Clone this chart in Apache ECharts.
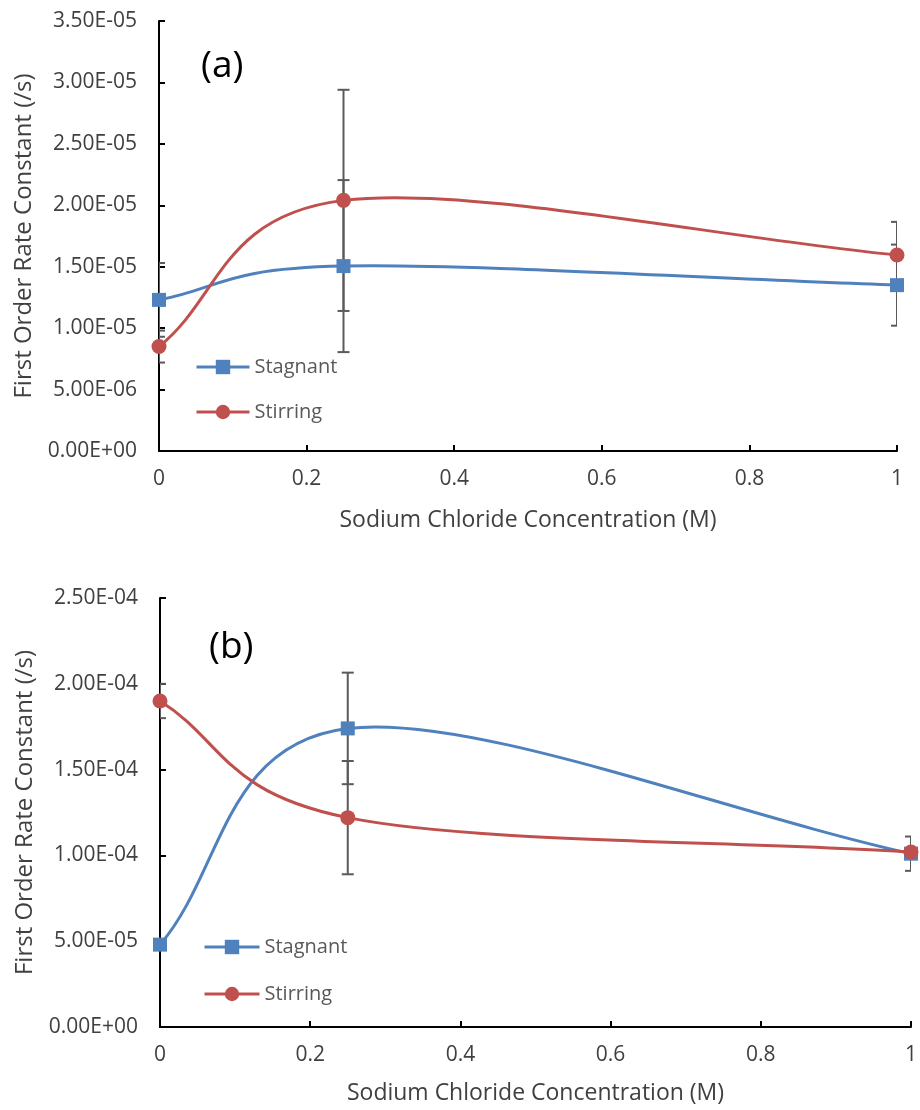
<!DOCTYPE html>
<html>
<head>
<meta charset="utf-8">
<script src="https://cdn.jsdelivr.net/npm/echarts@6/dist/echarts.min.js"></script>
<style>
html,body{margin:0;padding:0;background:#fff;}
#c{width:920px;height:1110px;}
</style>
</head>
<body>
<div id="c"></div>
<script>
// ---- data ----
const concentrations = [0, 0.25, 1];
const seriesNames = ['Stagnant', 'Stirring'];
const panelLabels = ['(a)', '(b)'];
const xAxisTitle = 'Sodium Chloride Concentration (M)';
const yAxisTitle = 'First Order Rate Constant (/s)';

// panel (a)
const aStagnant = [1.23e-5, 1.505e-5, 1.35e-5];
const aStagnantErr = [3.0e-6, 7.0e-6, 3.3e-6];
const aStirring = [8.5e-6, 2.04e-5, 1.595e-5];
const aStirringErr = [1.3e-6, 9.0e-6, 2.7e-6];
const aYMax = 3.5e-5, aYStep = 5e-6;

// panel (b)
const bStagnant = [4.8e-5, 1.74e-4, 1.01e-4];
const bStagnantErr = [1.5e-6, 3.25e-5, 1.0e-5];
const bStirring = [1.90e-4, 1.22e-4, 1.02e-4];
const bStirringErr = [1.0e-5, 3.3e-5, 2.0e-6];
const bYMax = 2.5e-4, bYStep = 5e-5;

// ---- styles ----
const BLUE = '#4F81BD', RED = '#C0504D', ERR = '#5a5a5a';
const FONT = '"Open Sans", "Noto Sans", sans-serif';
const TXT = '#404040';

function sci(v){
  if (Math.abs(v) < 1e-20) return '0.00E+00';
  const s = v.toExponential(2);
  const parts = s.split('e');
  const e = parseInt(parts[1], 10);
  const d = Math.abs(e);
  return parts[0] + 'E' + (e < 0 ? '-' : '+') + (d < 10 ? '0' : '') + d;
}

const grids = [
  {left: 159, top: 21, width: 738, height: 430},
  {left: 160, top: 598, width: 753, height: 429}
];

function xAxisDef(gi, gap){
  return {
    type: 'value', gridIndex: gi, min: 0, max: 1, interval: 0.2,
    name: xAxisTitle, nameLocation: 'middle', nameGap: gap,
    nameTextStyle: {fontFamily: FONT, fontSize: 23, color: TXT},
    axisLine: {show: true, onZero: false, lineStyle: {color: '#000', width: 2}},
    axisTick: {show: true, inside: true, length: 6, lineStyle: {color: '#000', width: 2}},
    axisLabel: {fontFamily: FONT, fontSize: 21, color: TXT, margin: 18},
    splitLine: {show: false}
  };
}
function yAxisDef(gi, max, step){
  return {
    type: 'value', gridIndex: gi, min: 0, max: max, interval: step,
    name: yAxisTitle, nameLocation: 'middle', nameGap: 123, nameRotate: 90,
    nameTextStyle: {fontFamily: FONT, fontSize: 24, color: TXT},
    axisLine: {show: true, lineStyle: {color: '#000', width: 2}},
    axisTick: {show: true, inside: true, length: 6, lineStyle: {color: '#000', width: 2}},
    axisLabel: {fontFamily: FONT, fontSize: 21, color: TXT, margin: 22, formatter: sci},
    splitLine: {show: false}
  };
}

function pts(vals){ return concentrations.map((x, i) => [x, vals[i]]); }
function errPts(vals, errs){ return concentrations.map((x, i) => [x, vals[i], errs[i]]); }

// markers (line itself drawn by the smoothed curve series below)
function markerSeries(name, gi, vals, color, symbol){
  return {
    type: 'line', name: name, xAxisIndex: gi, yAxisIndex: gi,
    data: pts(vals), symbol: symbol, symbolSize: symbol === 'rect' ? 14 : 15,
    lineStyle: {color: color, width: 3, opacity: 0}, itemStyle: {color: color, opacity: 1},
    z: 4, clip: false, animation: false
  };
}
// Excel-style smoothed line (Catmull-Rom Bezier with reflected end points), positions via axis scales
function curveSeries(gi, vals, color){
  return {
    type: 'custom', xAxisIndex: gi, yAxisIndex: gi, z: 3, clip: false,
    silent: true, animation: false,
    data: pts(vals),
    renderItem: function(params, api){
      const i = params.dataIndex;
      const n = concentrations.length;
      if (i >= n - 1) return null;
      const P = concentrations.map((x, k) => api.coord([x, vals[k]]));
      function tan(k){
        if (k === 0) return [(P[1][0] - P[0][0]) / 3, (P[1][1] - P[0][1]) / 3];
        if (k === n - 1) return [(P[n-1][0] - P[n-2][0]) / 3, (P[n-1][1] - P[n-2][1]) / 3];
        return [(P[k+1][0] - P[k-1][0]) / 6, (P[k+1][1] - P[k-1][1]) / 6];
      }
      const t0 = tan(i), t1 = tan(i + 1);
      const p0 = P[i], p1 = P[i + 1];
      return {
        type: 'bezierCurve',
        shape: {
          x1: p0[0], y1: p0[1], x2: p1[0], y2: p1[1],
          cpx1: p0[0] + t0[0], cpy1: p0[1] + t0[1],
          cpx2: p1[0] - t1[0], cpy2: p1[1] - t1[1]
        },
        style: {stroke: color, lineWidth: 3, fill: null, lineCap: 'round'}
      };
    }
  };
}
function errSeries(gi, vals, errs){
  return {
    type: 'custom', xAxisIndex: gi, yAxisIndex: gi, z: 2, clip: true,
    silent: true, animation: false,
    data: errPts(vals, errs),
    renderItem: function(params, api){
      const x = api.value(0), y = api.value(1), e = api.value(2);
      const top = api.coord([x, y + e]);
      const bot = api.coord([x, y - e]);
      const hw = 6;
      const st = {stroke: ERR, lineWidth: 2, fill: null};
      return {type: 'group', children: [
        {type: 'line', shape: {x1: top[0], y1: top[1], x2: bot[0], y2: bot[1]}, style: st},
        {type: 'line', shape: {x1: top[0]-hw, y1: top[1], x2: top[0]+hw, y2: top[1]}, style: st},
        {type: 'line', shape: {x1: bot[0]-hw, y1: bot[1], x2: bot[0]+hw, y2: bot[1]}, style: st}
      ]};
    }
  };
}

function legendDef(left, top, gap, w){
  return {
    orient: 'vertical', left: left, top: top, padding: 0,
    itemWidth: w, itemHeight: 18, itemGap: gap,
    lineStyle: {width: 3, opacity: 1},
    textStyle: {fontFamily: FONT, fontSize: 20, color: '#595959'},
    data: seriesNames, selectedMode: false
  };
}

const chart = echarts.init(document.getElementById('c'), null, {renderer: 'canvas'});
chart.setOption({
  backgroundColor: '#fff',
  animation: false,
  grid: grids,
  xAxis: [xAxisDef(0, 58), xAxisDef(1, 55)],
  yAxis: [yAxisDef(0, aYMax, aYStep), yAxisDef(1, bYMax, bYStep)],
  legend: [legendDef(195, 357, 25, 53), legendDef(203, 937, 27, 55)],
  graphic: [
    {type: 'text', left: 201, top: 48, style: {text: panelLabels[0], font: '37px ' + FONT, fill: '#000'}},
    {type: 'text', left: 209, top: 629, style: {text: panelLabels[1], font: '37px ' + FONT, fill: '#000'}}
  ],
  series: [
    errSeries(0, aStagnant, aStagnantErr),
    errSeries(0, aStirring, aStirringErr),
    curveSeries(0, aStagnant, BLUE),
    markerSeries(seriesNames[0], 0, aStagnant, BLUE, 'rect'),
    curveSeries(0, aStirring, RED),
    markerSeries(seriesNames[1], 0, aStirring, RED, 'circle'),
    errSeries(1, bStagnant, bStagnantErr),
    errSeries(1, bStirring, bStirringErr),
    curveSeries(1, bStagnant, BLUE),
    markerSeries(seriesNames[0], 1, bStagnant, BLUE, 'rect'),
    curveSeries(1, bStirring, RED),
    markerSeries(seriesNames[1], 1, bStirring, RED, 'circle')
  ]
});
</script>
</body>
</html>
